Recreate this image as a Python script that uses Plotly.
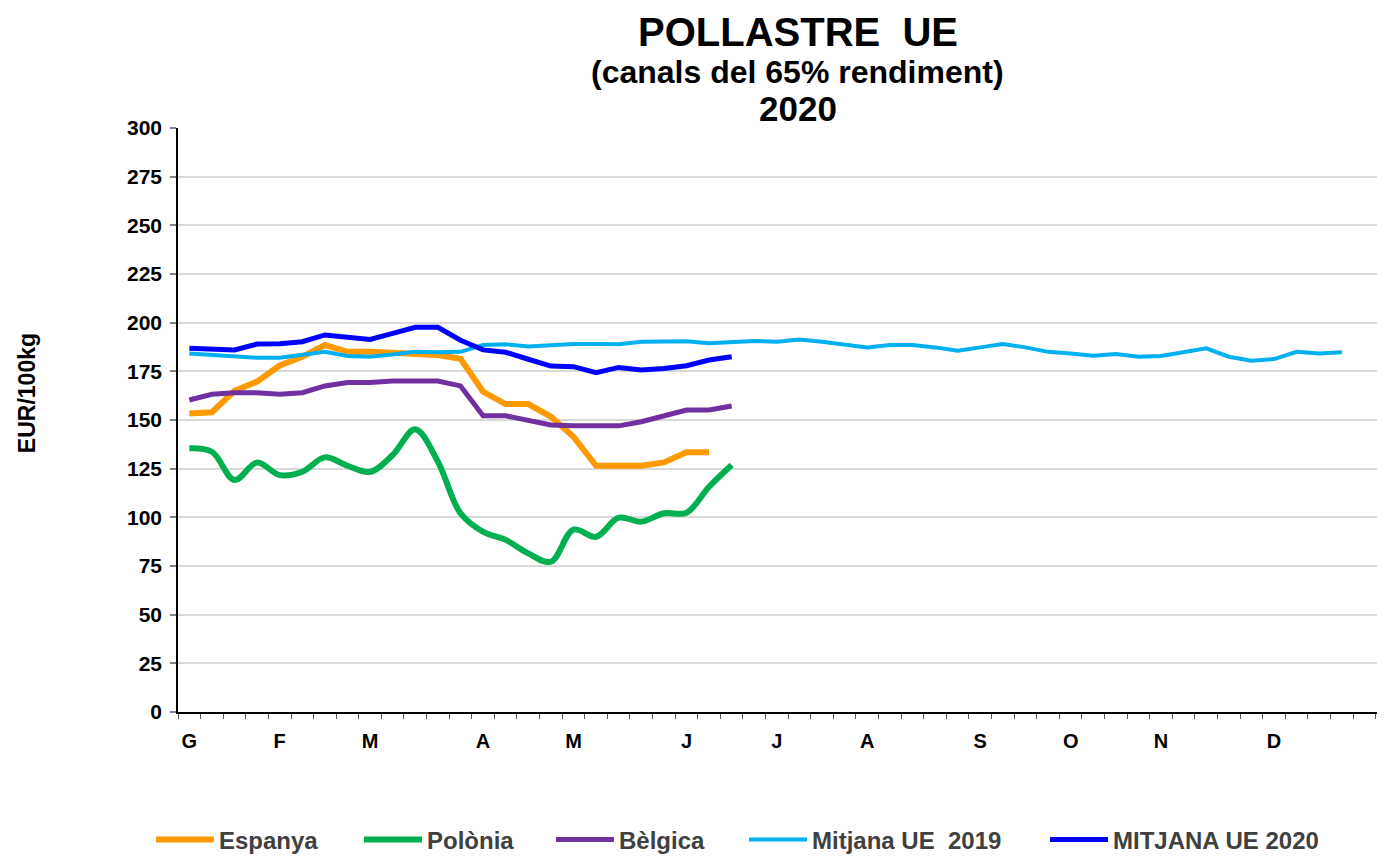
import plotly.graph_objects as go

# ---- data (EUR/100kg, weekly) ----
month_labels = ["G", "F", "M", "A", "M", "J", "J", "A", "S", "O", "N", "D"]
month_weeks = [0, 4, 8, 13, 17, 22, 26, 30, 35, 39, 43, 48]

espanya = [153.4, 154.0, 165.0, 169.7, 178.0, 182.5, 188.5, 185.0, 185.0, 184.5, 184.0, 183.4,
           181.5, 164.5, 158.2, 158.2, 151.7, 141.4, 126.5, 126.5, 126.5, 128.2, 133.4, 133.4]

polonia = [135.5, 133.7, 119.2, 128.1, 121.7, 123.4, 130.8, 126.5, 123.4, 132.0, 145.2, 128.6,
           102.1, 92.6, 88.4, 81.5, 77.2, 93.7, 90.0, 99.8, 97.8, 102.1, 102.4, 115.7, 126.9]

belgica = [160.3, 163.2, 164.0, 164.0, 163.2, 164.0, 167.5, 169.3, 169.3, 170.0, 170.0, 170.0,
           167.5, 152.2, 152.2, 149.6, 147.4, 147.0, 147.0, 147.0, 149.1, 152.2, 155.1, 155.1, 157.2]

mitjana_2019 = [184.2, 183.4, 182.5, 182.0, 182.0, 183.4, 185.0, 182.9, 182.5, 183.7, 185.0, 184.8,
                185.0, 188.5, 188.9, 187.7, 188.5, 189.0, 189.0, 188.9, 190.2, 190.5, 190.5, 189.4,
                189.9, 190.6, 190.2, 191.4, 190.2, 188.5, 187.3, 188.5, 188.5, 187.3, 185.6, 187.3,
                189.0, 187.3, 185.0, 184.2, 183.0, 183.9, 182.5, 182.9, 184.8, 186.8, 182.5, 180.5,
                181.3, 185.0, 184.2, 184.8]

mitjana_2020 = [186.8, 186.5, 186.0, 189.0, 189.2, 190.2, 193.7, 192.5, 191.4, 194.5, 197.6, 197.6,
                191.0, 186.0, 184.8, 181.2, 177.7, 177.4, 174.3, 177.0, 175.7, 176.5, 177.9, 180.8, 182.5]

y_ticks = list(range(0, 301, 25))

series = [
    ("Espanya", espanya, "#FF9900", 6, "linear"),
    ("Polònia", polonia, "#00B050", 6, "spline"),
    ("Bèlgica", belgica, "#7030A0", 5, "linear"),
    ("Mitjana UE\u00a0\u00a02019", mitjana_2019, "#00B0F0", 4, "linear"),
    ("MITJANA UE 2020", mitjana_2020, "#0000FF", 5, "linear"),
]
legend_x = [0.1038, 0.2549, 0.3943, 0.5345, 0.7531]

FONT = "Liberation Sans, Arial, sans-serif"

fig = go.Figure()
legends = {}
for i, (name, vals, color, width, shape) in enumerate(series):
    key = "legend" if i == 0 else f"legend{i + 1}"
    fig.add_trace(go.Scatter(
        x=list(range(len(vals))), y=vals, name=name, mode="lines",
        line=dict(color=color, width=width, shape=shape),
        legend=key,
    ))
    legends[key] = dict(
        orientation="h", xref="container", yref="container",
        x=legend_x[i], xanchor="left", y=0.0189, yanchor="middle",
        font=dict(family=FONT, size=24, color="#404040", weight="bold"),
        itemwidth=58, bgcolor="rgba(0,0,0,0)",
    )

fig.update_layout(
    width=1377, height=848,
    margin=dict(l=170, r=2, t=120, b=144),
    paper_bgcolor="white", plot_bgcolor="white",
    font=dict(family=FONT, color="black"),
    showlegend=True,
    xaxis=dict(
        range=[-0.5, 52.82],
        tickmode="array", tickvals=month_weeks, ticktext=month_labels,
        ticks="outside", ticklen=10, tickcolor="rgba(0,0,0,0)",
        tickfont=dict(family=FONT, size=20, color="black", weight="bold"),
        showgrid=False, zeroline=False,
        showline=True, linecolor="black", linewidth=1.5,
        minor=dict(tickmode="linear", tick0=-0.5, dtick=1, ticks="outside",
                   ticklen=5, tickcolor="#595959", tickwidth=1, showgrid=False),
    ),
    yaxis=dict(
        range=[0, 300], tickmode="array", tickvals=y_ticks,
        ticks="outside", ticklen=6, tickcolor="#7f7f7f", tickwidth=1.5,
        ticklabelstandoff=4,
        tickfont=dict(family=FONT, size=21, color="black", weight="bold"),
        showgrid=True, gridcolor="#d9d9d9", gridwidth=1.5,
        zeroline=False, showline=True, linecolor="black", linewidth=1.5,
    ),
    annotations=[
        dict(text="POLLASTRE\u00a0\u00a0UE", xref="paper", yref="paper", x=0.5145, y=1.2046,
             xanchor="center", yanchor="top", showarrow=False, borderpad=0,
             font=dict(family=FONT, size=40, color="black", weight="bold")),
        dict(text="(canals del 65% rendiment)", xref="paper", yref="paper", x=0.5145, y=1.096,
             xanchor="center", yanchor="middle", showarrow=False,
             font=dict(family=FONT, size=32, color="black", weight="bold")),
        dict(text="2020", xref="paper", yref="paper", x=0.5145, y=1.034,
             xanchor="center", yanchor="middle", showarrow=False,
             font=dict(family=FONT, size=35, color="black", weight="bold")),
        dict(text="EUR/100kg", xref="paper", yref="paper", x=-0.1253, y=0.546,
             xanchor="center", yanchor="middle", showarrow=False, textangle=-90,
             font=dict(family=FONT, size=23, color="black", weight="bold")),
    ],
    **legends,
)

fig.write_html("out.html")
